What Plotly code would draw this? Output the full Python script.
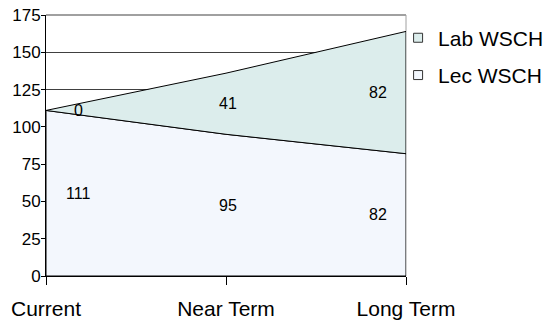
import plotly.graph_objects as go

# Weekly student contact hours by planning horizon
categories = ["Current", "Near Term", "Long Term"]
lec_wsch = [111, 95, 82]
lab_wsch = [0, 41, 82]

y_ticks = [0, 25, 50, 75, 100, 125, 150, 175]

LEC_FILL = "#F3F7FD"
LAB_FILL = "#DCEDEC"
FONT = "Liberation Sans, Arial, sans-serif"

xs = list(range(len(categories)))
lec_top = lec_wsch
lab_top = [a + b for a, b in zip(lec_wsch, lab_wsch)]

fig = go.Figure()

# Lower band: Lec WSCH from zero up to its values
fig.add_trace(go.Scatter(
    x=[xs[0]] + xs + [xs[-1], xs[0]],
    y=[0] + lec_top + [0, 0],
    mode="lines", fill="toself", fillcolor=LEC_FILL,
    line=dict(color="black", width=1),
    showlegend=False, hoverinfo="skip",
))

# Upper band: Lab WSCH stacked on top of Lec WSCH
fig.add_trace(go.Scatter(
    x=xs + xs[::-1] + [xs[0]],
    y=lab_top + lec_top[::-1] + [lab_top[0]],
    mode="lines", fill="toself", fillcolor=LAB_FILL,
    line=dict(color="black", width=1),
    showlegend=False, hoverinfo="skip",
))

# Legend entries as square swatches
for name, color, grp in [("Lab WSCH", LAB_FILL, "a"), ("Lec WSCH", LEC_FILL, "b")]:
    fig.add_trace(go.Scatter(
        x=[None], y=[None], mode="markers", name=name, legendgroup=grp,
        marker=dict(symbol="square", size=9, color=color,
                    line=dict(color="#333333", width=1)),
    ))

# Value labels centred in each band
label_shift = [32, 2, -28]
for i, x in enumerate(xs):
    fig.add_annotation(x=x, y=lec_wsch[i] / 2, text=str(lec_wsch[i]),
                       showarrow=False, xshift=label_shift[i],
                       font=dict(size=16, color="black", family=FONT))
    fig.add_annotation(x=x, y=lec_wsch[i] + lab_wsch[i] / 2, text=str(lab_wsch[i]),
                       showarrow=False, xshift=label_shift[i],
                       font=dict(size=16, color="black", family=FONT))

# Top and right border of the plot area
fig.add_shape(type="line", xref="paper", yref="paper", x0=0, x1=1, y0=1, y1=1,
              line=dict(color="#A0A0A0", width=2), layer="below")
fig.add_shape(type="line", xref="paper", yref="paper", x0=1, x1=1, y0=0, y1=1,
              line=dict(color="#A0A0A0", width=1), layer="below")

fig.update_layout(
    width=553, height=322,
    margin=dict(l=46, r=147, t=15, b=46, autoexpand=False),
    paper_bgcolor="white", plot_bgcolor="white",
    font=dict(family=FONT, color="black"),
    showlegend=True,
    legend=dict(x=0.978, y=0.99, xanchor="left", yanchor="top",
                font=dict(size=21, family=FONT), traceorder="grouped",
                tracegroupgap=7, bgcolor="rgba(0,0,0,0)"),
    xaxis=dict(
        range=[0, 2], tickmode="array", tickvals=xs, ticktext=categories,
        showgrid=False, zeroline=False, showline=True, linecolor="black",
        linewidth=1, ticks="outside", ticklen=8, tickcolor="black",
        tickfont=dict(size=21), layer="above traces", automargin=False,
        ticklabelstandoff=6,
    ),
    yaxis=dict(
        range=[0, 175], tickmode="array", tickvals=y_ticks,
        showgrid=True, gridcolor="#404040", gridwidth=1,
        zeroline=False, showline=True, linecolor="black", linewidth=1,
        ticks="outside", ticklen=4, tickcolor="black",
        tickfont=dict(size=17), layer="above traces", automargin=False,
        ticklabelstandoff=-3,
    ),
)

fig.write_html("out.html")
